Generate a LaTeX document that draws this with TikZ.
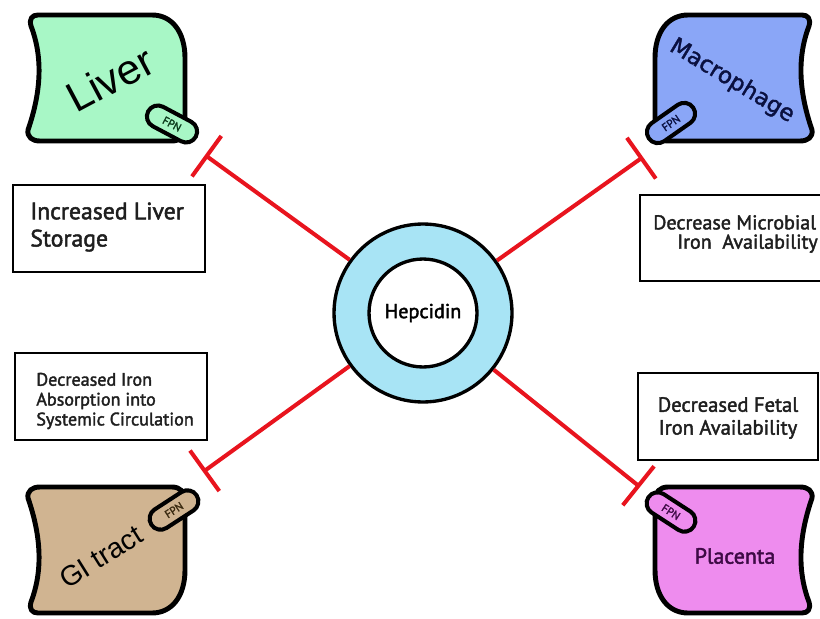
\documentclass[tikz,border=0pt]{standalone}
\usepackage{fontspec}
\setmainfont{PT Sans}
\newfontfamily\dinfont{PT Sans}[FakeBold=2]
\newfontfamily\libsans{Liberation Sans}
\newfontfamily\dejsans{DejaVu Sans}[FakeBold=1.5]
\usetikzlibrary{arrows.meta,shapes.misc}
\definecolor{livergreen}{HTML}{A8F7C6}
\definecolor{macroblue}{HTML}{8AA6F7}
\definecolor{gitan}{HTML}{D0B491}
\definecolor{placpink}{HTML}{EE8CEE}
\definecolor{hepblue}{HTML}{A8E4F5}
\definecolor{inhred}{HTML}{E8141E}
\definecolor{macrotext}{HTML}{0A1040}
\definecolor{plactext}{HTML}{3D0A45}
\definecolor{livertext}{HTML}{0A3A1A}
\definecolor{gitext}{HTML}{3A2A10}
\tikzset{
  organ/.style={draw=black, line width=2.8pt, line join=round},
  organpath/.style={insert path={(38,15) -- (152,15)
      .. controls (172,15) and (185,32) .. (185,58) -- (185,128)
      .. controls (185,136) and (180,141) .. (172,141) -- (40,141)
      .. controls (32,141) and (27,137) .. (28,130)
      .. controls (40,95) and (44,60) .. (31,26)
      .. controls (29,19) and (32,15) .. (38,15) -- cycle}},
  pill/.style={rounded rectangle, draw=black, line width=2.3pt, minimum width=1.08cm,
    minimum height=0.44cm, inner sep=0pt, font=\dinfont\fontsize{6.3}{7}\selectfont},
  infobox/.style={draw=black, line width=1.2pt, inner sep=0pt},
  infotext/.style={text=black!88, inner sep=0pt},
  inhibit/.style={draw=inhred, line width=2.3pt, -{Bar[width=1cm]}},
}
\begin{document}
\begin{tikzpicture}[x=0.02cm, y=-0.02cm]
\useasboundingbox (0,0) rectangle (820,618);
\clip (0,0) rectangle (820,618);

% organ bodies
\path[organ, fill=livergreen, organpath];
\begin{scope}[shift={(840,0)}, xscale=-1]
  \path[organ, fill=macroblue, organpath];
\end{scope}
\begin{scope}[shift={(0,628)}, yscale=-1]
  \path[organ, fill=gitan, organpath];
\end{scope}
\begin{scope}[shift={(840,628)}, xscale=-1, yscale=-1]
  \path[organ, fill=placpink, organpath];
\end{scope}

% organ labels
\node[rotate=28, inner sep=1pt, font=\libsans\fontsize{24}{28}\selectfont] (liver) at (110,79) {Liver};
\node[rotate=-31, inner sep=1pt, text=macrotext, font=\dejsans\fontsize{13}{15}\selectfont] (macro) at (732,81) {Macrophage};
\node[rotate=32, inner sep=1pt, font=\libsans\fontsize{16}{19}\selectfont] (gi) at (101,557) {GI tract};
\node[text=plactext, font=\dinfont\fontsize{12.5}{15}\selectfont] (plac) at (735,556) {Placenta};

% FPN pills
\node[pill, fill=livergreen, text=livertext, rotate=-28] (fpn1) at (172,124) {FPN};
\node[pill, fill=macroblue, text=macrotext, rotate=35] (fpn2) at (671,123) {FPN};
\node[pill, fill=gitan, text=gitext, rotate=33] (fpn3) at (174,510) {FPN};
\node[pill, fill=placpink, text=plactext, rotate=-33] (fpn4) at (671,512) {FPN};

% hepcidin ring
\node[circle, draw=black, line width=1.9pt, fill=hepblue, minimum size=3.56cm, inner sep=0pt] (hep) at (423,313) {};
\node[circle, draw=black, line width=1.9pt, fill=white, minimum size=2.16cm, inner sep=0pt,
  font=\dinfont\fontsize{11.5}{13}\selectfont] (hepin) at (423,313) {Hepcidin};

% inhibition connectors
\coordinate (tlbar) at (205,155);
\coordinate (trbar) at (643,157);
\coordinate (blbar) at (203,472);
\coordinate (brbar) at (640,487);
\draw[inhibit] (hep) -- (tlbar);
\draw[inhibit] (hep) -- (trbar);
\draw[inhibit] (hep) -- (blbar);
\draw[inhibit] (hep) -- (brbar);

% info boxes
\node[infobox, minimum width=3.84cm, minimum height=1.74cm] (b1) at (109,228.5) {};
\node[infotext, anchor=west, align=left, font=\dinfont\fontsize{13.5}{15.5}\selectfont] (t1) at (30,227) {Increased Liver\\Storage};
\node[infobox, minimum width=4cm, minimum height=1.72cm] (b2) at (740,238) {};
\node[infotext, anchor=west, align=left, font=\dinfont\fontsize{11.4}{11}\selectfont] (t2) at (653,234) {Decrease Microbial\\\hspace*{0.48cm}Iron~ Availability};
\node[infobox, minimum width=3.84cm, minimum height=1.74cm] (b3) at (111,396.5) {};
\node[infotext, anchor=west, align=left, font=\dinfont\fontsize{10.3}{11.3}\selectfont] (t3) at (36,401) {Decreased Iron\\Absorption into\\Systemic Circulation};
\node[infobox, minimum width=3.6cm, minimum height=1.74cm] (b4) at (728,416.5) {};
\node[infotext, align=center, font=\dinfont\fontsize{11.7}{13}\selectfont] (t4) at (728,418) {Decreased Fetal\\Iron Availability};
\end{tikzpicture}
\end{document}
